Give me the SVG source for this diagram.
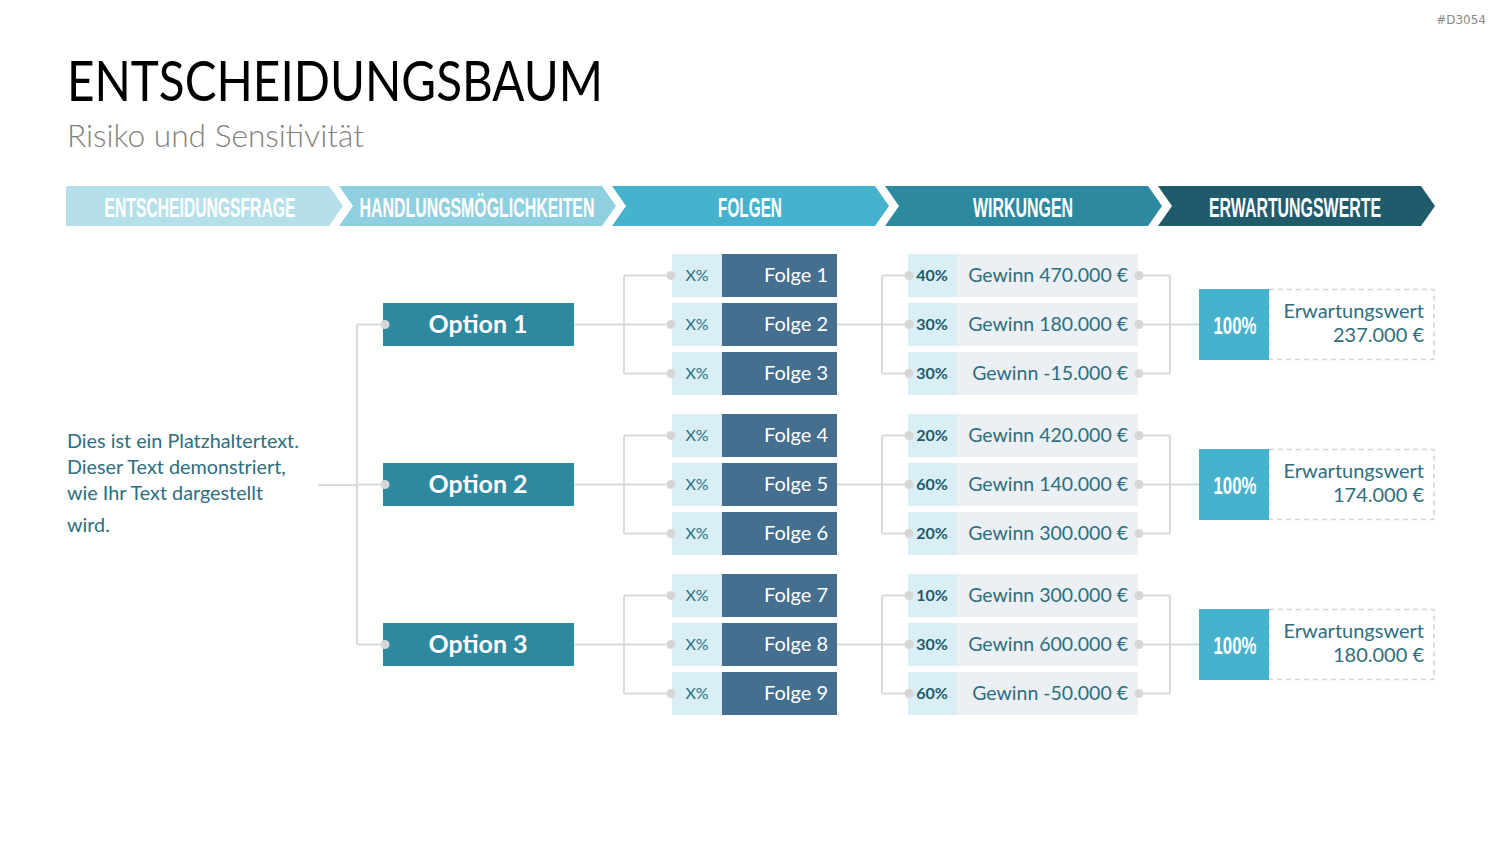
<svg xmlns="http://www.w3.org/2000/svg" width="1500" height="844" viewBox="0 0 1500 844">
<style>
.hdr{font-family:"Liberation Sans",Arial,sans-serif;font-weight:bold;font-size:28px;fill:#fff;text-anchor:middle}
.opt{fill:#2e89a0}
.optt{font-family:Lato,"Open Sans",sans-serif;font-weight:bold;font-size:25px;fill:#fff;text-anchor:middle}
.xp{fill:#daeef5}
.xpt{font-family:Lato,"Open Sans",sans-serif;font-size:16px;fill:#2e6e7e;text-anchor:middle}
.fo{fill:#446f8e}
.fot{font-family:Lato,"Open Sans",sans-serif;font-size:20px;fill:#fff;text-anchor:end}
.pc{fill:#daeef5}
.pct{font-family:Lato,"Open Sans",sans-serif;font-weight:bold;font-size:16px;fill:#1f5b6b;text-anchor:middle}
.gw{fill:#eaf0f3}
.gwt{font-family:Lato,"Open Sans",sans-serif;font-size:19.5px;fill:#2e6e7e;text-anchor:end}
.hb{fill:#47b2cd}
.hbt{font-family:"Liberation Sans",Arial,sans-serif;font-weight:bold;font-size:24px;fill:#fff;text-anchor:middle}
.db{fill:none;stroke:#d4d4d4;stroke-width:1.5;stroke-dasharray:5 4}
.ewt{font-family:Lato,"Open Sans",sans-serif;font-size:20px;fill:#2e6e7e;text-anchor:end}
.ln{fill:none;stroke:#dadada;stroke-width:2}
.dot{fill:#d6d6d6}
.body{font-family:Lato,"Open Sans",sans-serif;font-size:19.8px;fill:#2e6e7e}
</style>

<text x="1486" y="24" font-family="'DejaVu Sans',sans-serif" font-size="12" fill="#8a8a8a" text-anchor="end">#D3054</text>
<text x="67" y="101" font-family="Lato,'Open Sans',sans-serif" font-size="56" fill="#000" textLength="536" lengthAdjust="spacingAndGlyphs">ENTSCHEIDUNGSBAUM</text>
<text x="67" y="147" font-family="Lato,'Open Sans',sans-serif" font-size="31" font-weight="300" fill="#7f7f7f" textLength="297" lengthAdjust="spacingAndGlyphs">Risiko und Sensitivität</text>

<g id="header">
  <path d="M66,186 H329 L343,206 L329,226 H66 Z" fill="#b5e0ea"/>
  <path d="M339,186 H602 L616,206 L602,226 H339 L353,206 Z" fill="#8fd0e0"/>
  <path d="M612,186 H875 L889,206 L875,226 H612 L626,206 Z" fill="#47b2cd"/>
  <path d="M885,186 H1148 L1162,206 L1148,226 H885 L899,206 Z" fill="#2c89a0"/>
  <path d="M1158,186 H1421 L1435,206 L1421,226 H1158 L1172,206 Z" fill="#1f5b6b"/>
  <text class="hdr" transform="translate(200,217) scale(0.55,1)" x="0" y="0" textLength="347" lengthAdjust="spacingAndGlyphs">ENTSCHEIDUNGSFRAGE</text>
  <text class="hdr" transform="translate(477,217) scale(0.55,1)" x="0" y="0" textLength="427" lengthAdjust="spacingAndGlyphs">HANDLUNGSMÖGLICHKEITEN</text>
  <text class="hdr" transform="translate(750,217) scale(0.55,1)" x="0" y="0" textLength="116" lengthAdjust="spacingAndGlyphs">FOLGEN</text>
  <text class="hdr" transform="translate(1023,217) scale(0.55,1)" x="0" y="0" textLength="182" lengthAdjust="spacingAndGlyphs">WIRKUNGEN</text>
  <text class="hdr" transform="translate(1295,217) scale(0.55,1)" x="0" y="0" textLength="313" lengthAdjust="spacingAndGlyphs">ERWARTUNGSWERTE</text>
</g>

<g id="connectors">
  <path class="ln" d="M318,485 H357 M357,324.5 V644.5 M357,324.5 H385 M357,484.5 H385 M357,644.5 H385"/>
  <path class="ln" d="M574,324.5 H624 M624,275.5 V373.5 M624,275.5 H671 M624,373.5 H671 M624,324.5 H671 M837,324.5 H882 M882,275.5 V373.5 M882,275.5 H909 M882,324.5 H909 M882,373.5 H909 M1140,275.5 H1170 M1140,324.5 H1170 M1140,373.5 H1170 M1170,275.5 V373.5 M1170,324.5 H1199"/>
  <path class="ln" d="M574,484.5 H624 M624,435.5 V533.5 M624,435.5 H671 M624,533.5 H671 M624,484.5 H671 M837,484.5 H882 M882,435.5 V533.5 M882,435.5 H909 M882,484.5 H909 M882,533.5 H909 M1140,435.5 H1170 M1140,484.5 H1170 M1140,533.5 H1170 M1170,435.5 V533.5 M1170,484.5 H1199"/>
  <path class="ln" d="M574,644.5 H624 M624,595.5 V693.5 M624,595.5 H671 M624,693.5 H671 M624,644.5 H671 M837,644.5 H882 M882,595.5 V693.5 M882,595.5 H909 M882,644.5 H909 M882,693.5 H909 M1140,595.5 H1170 M1140,644.5 H1170 M1140,693.5 H1170 M1170,595.5 V693.5 M1170,644.5 H1199"/>
</g>

<g id="text-left">
  <text class="body" x="67" y="448">Dies ist ein Platzhaltertext.</text>
  <text class="body" x="67" y="474">Dieser Text demonstriert,</text>
  <text class="body" x="67" y="500">wie Ihr Text dargestellt</text>
  <text class="body" x="67" y="532">wird.</text>
</g>

<g id="option1"><rect class="opt" x="383" y="303" width="191" height="43"/><circle class="dot" cx="385" cy="324.5" r="4.5"/><text class="optt" x="478" y="333">Option 1</text></g>
<g id="option2"><rect class="opt" x="383" y="463" width="191" height="43"/><circle class="dot" cx="385" cy="484.5" r="4.5"/><text class="optt" x="478" y="493">Option 2</text></g>
<g id="option3"><rect class="opt" x="383" y="623" width="191" height="43"/><circle class="dot" cx="385" cy="644.5" r="4.5"/><text class="optt" x="478" y="653">Option 3</text></g>

<g id="folge1"><rect class="xp" x="672" y="254" width="50" height="43"/><rect class="fo" x="722" y="254" width="115" height="43"/><circle class="dot" cx="671" cy="275.5" r="4.5"/><text class="xpt" x="697" y="281">X%</text><text class="fot" x="828" y="282">Folge 1</text></g>
<g id="folge2"><rect class="xp" x="672" y="303" width="50" height="43"/><rect class="fo" x="722" y="303" width="115" height="43"/><circle class="dot" cx="671" cy="324.5" r="4.5"/><text class="xpt" x="697" y="330">X%</text><text class="fot" x="828" y="331">Folge 2</text></g>
<g id="folge3"><rect class="xp" x="672" y="352" width="50" height="43"/><rect class="fo" x="722" y="352" width="115" height="43"/><circle class="dot" cx="671" cy="373.5" r="4.5"/><text class="xpt" x="697" y="379">X%</text><text class="fot" x="828" y="380">Folge 3</text></g>
<g id="folge4"><rect class="xp" x="672" y="414" width="50" height="43"/><rect class="fo" x="722" y="414" width="115" height="43"/><circle class="dot" cx="671" cy="435.5" r="4.5"/><text class="xpt" x="697" y="441">X%</text><text class="fot" x="828" y="442">Folge 4</text></g>
<g id="folge5"><rect class="xp" x="672" y="463" width="50" height="43"/><rect class="fo" x="722" y="463" width="115" height="43"/><circle class="dot" cx="671" cy="484.5" r="4.5"/><text class="xpt" x="697" y="490">X%</text><text class="fot" x="828" y="491">Folge 5</text></g>
<g id="folge6"><rect class="xp" x="672" y="512" width="50" height="43"/><rect class="fo" x="722" y="512" width="115" height="43"/><circle class="dot" cx="671" cy="533.5" r="4.5"/><text class="xpt" x="697" y="539">X%</text><text class="fot" x="828" y="540">Folge 6</text></g>
<g id="folge7"><rect class="xp" x="672" y="574" width="50" height="43"/><rect class="fo" x="722" y="574" width="115" height="43"/><circle class="dot" cx="671" cy="595.5" r="4.5"/><text class="xpt" x="697" y="601">X%</text><text class="fot" x="828" y="602">Folge 7</text></g>
<g id="folge8"><rect class="xp" x="672" y="623" width="50" height="43"/><rect class="fo" x="722" y="623" width="115" height="43"/><circle class="dot" cx="671" cy="644.5" r="4.5"/><text class="xpt" x="697" y="650">X%</text><text class="fot" x="828" y="651">Folge 8</text></g>
<g id="folge9"><rect class="xp" x="672" y="672" width="50" height="43"/><rect class="fo" x="722" y="672" width="115" height="43"/><circle class="dot" cx="671" cy="693.5" r="4.5"/><text class="xpt" x="697" y="699">X%</text><text class="fot" x="828" y="700">Folge 9</text></g>

<g id="wirkung1"><rect class="pc" x="908" y="254" width="49" height="43"/><rect class="gw" x="957" y="254" width="181" height="43"/><circle class="dot" cx="909" cy="275.5" r="4.5"/><circle class="dot" cx="1139" cy="275.5" r="4.5"/><text class="pct" x="932" y="281">40%</text><text class="gwt" x="1128" y="282">Gewinn 470.000 €</text></g>
<g id="wirkung2"><rect class="pc" x="908" y="303" width="49" height="43"/><rect class="gw" x="957" y="303" width="181" height="43"/><circle class="dot" cx="909" cy="324.5" r="4.5"/><circle class="dot" cx="1139" cy="324.5" r="4.5"/><text class="pct" x="932" y="330">30%</text><text class="gwt" x="1128" y="331">Gewinn 180.000 €</text></g>
<g id="wirkung3"><rect class="pc" x="908" y="352" width="49" height="43"/><rect class="gw" x="957" y="352" width="181" height="43"/><circle class="dot" cx="909" cy="373.5" r="4.5"/><circle class="dot" cx="1139" cy="373.5" r="4.5"/><text class="pct" x="932" y="379">30%</text><text class="gwt" x="1128" y="380">Gewinn -15.000 €</text></g>
<g id="wirkung4"><rect class="pc" x="908" y="414" width="49" height="43"/><rect class="gw" x="957" y="414" width="181" height="43"/><circle class="dot" cx="909" cy="435.5" r="4.5"/><circle class="dot" cx="1139" cy="435.5" r="4.5"/><text class="pct" x="932" y="441">20%</text><text class="gwt" x="1128" y="442">Gewinn 420.000 €</text></g>
<g id="wirkung5"><rect class="pc" x="908" y="463" width="49" height="43"/><rect class="gw" x="957" y="463" width="181" height="43"/><circle class="dot" cx="909" cy="484.5" r="4.5"/><circle class="dot" cx="1139" cy="484.5" r="4.5"/><text class="pct" x="932" y="490">60%</text><text class="gwt" x="1128" y="491">Gewinn 140.000 €</text></g>
<g id="wirkung6"><rect class="pc" x="908" y="512" width="49" height="43"/><rect class="gw" x="957" y="512" width="181" height="43"/><circle class="dot" cx="909" cy="533.5" r="4.5"/><circle class="dot" cx="1139" cy="533.5" r="4.5"/><text class="pct" x="932" y="539">20%</text><text class="gwt" x="1128" y="540">Gewinn 300.000 €</text></g>
<g id="wirkung7"><rect class="pc" x="908" y="574" width="49" height="43"/><rect class="gw" x="957" y="574" width="181" height="43"/><circle class="dot" cx="909" cy="595.5" r="4.5"/><circle class="dot" cx="1139" cy="595.5" r="4.5"/><text class="pct" x="932" y="601">10%</text><text class="gwt" x="1128" y="602">Gewinn 300.000 €</text></g>
<g id="wirkung8"><rect class="pc" x="908" y="623" width="49" height="43"/><rect class="gw" x="957" y="623" width="181" height="43"/><circle class="dot" cx="909" cy="644.5" r="4.5"/><circle class="dot" cx="1139" cy="644.5" r="4.5"/><text class="pct" x="932" y="650">30%</text><text class="gwt" x="1128" y="651">Gewinn 600.000 €</text></g>
<g id="wirkung9"><rect class="pc" x="908" y="672" width="49" height="43"/><rect class="gw" x="957" y="672" width="181" height="43"/><circle class="dot" cx="909" cy="693.5" r="4.5"/><circle class="dot" cx="1139" cy="693.5" r="4.5"/><text class="pct" x="932" y="699">60%</text><text class="gwt" x="1128" y="700">Gewinn -50.000 €</text></g>

<g id="ergebnis1"><rect class="db" x="1269" y="289.5" width="165" height="70"/><rect class="hb" x="1199" y="289" width="70" height="71"/><text class="hbt" x="1235" y="334" textLength="43" lengthAdjust="spacingAndGlyphs">100%</text><text class="ewt" x="1424" y="318">Erwartungswert</text><text class="ewt" x="1424" y="342">237.000 €</text></g>
<g id="ergebnis2"><rect class="db" x="1269" y="449.5" width="165" height="70"/><rect class="hb" x="1199" y="449" width="70" height="71"/><text class="hbt" x="1235" y="494" textLength="43" lengthAdjust="spacingAndGlyphs">100%</text><text class="ewt" x="1424" y="478">Erwartungswert</text><text class="ewt" x="1424" y="502">174.000 €</text></g>
<g id="ergebnis3"><rect class="db" x="1269" y="609.5" width="165" height="70"/><rect class="hb" x="1199" y="609" width="70" height="71"/><text class="hbt" x="1235" y="654" textLength="43" lengthAdjust="spacingAndGlyphs">100%</text><text class="ewt" x="1424" y="638">Erwartungswert</text><text class="ewt" x="1424" y="662">180.000 €</text></g>
</svg>
